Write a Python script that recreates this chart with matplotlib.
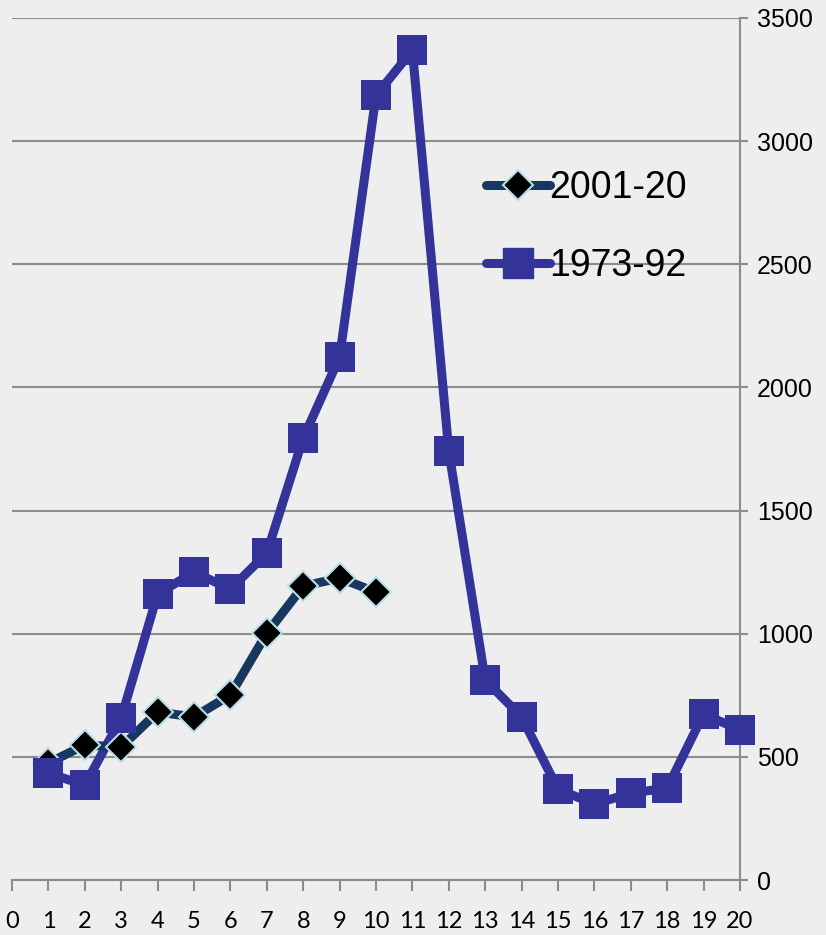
import matplotlib.pyplot as plt
from matplotlib.lines import Line2D

# x positions (years into period)
years_new = [1, 2, 3, 4, 5, 6, 7, 8, 9, 10]
years_old = list(range(1, 21))

# values
vals_2001_20 = [475, 548, 540, 682, 662, 751, 1002, 1193, 1226, 1169]
vals_1973_92 = [434, 385, 657, 1161, 1250, 1181, 1327, 1794, 2123, 3186,
                3369, 1741, 812, 662, 369, 308, 353, 373, 674, 609]

y_ticks = [0, 500, 1000, 1500, 2000, 2500, 3000, 3500]
x_ticks = list(range(0, 21))

bg = '#eeeeee'
grid_col = '#8c8c8c'
sq_col = '#333399'
dia_line = '#17375e'
dia_edge = '#b7dee8'

fig = plt.figure(figsize=(8.26, 9.35), dpi=100, facecolor=bg)
ax = fig.add_axes([12 / 826, 1 - 880 / 935, 728 / 826, 862 / 935])
ax.set_facecolor(bg)

ax.set_xlim(0, 20)
ax.set_ylim(0, 3500)

# lines first, then markers, so squares sit on top like in the original
ax.plot(years_old, vals_1973_92, color=sq_col, lw=6.5, zorder=3,
        solid_capstyle='round', solid_joinstyle='round', clip_on=False)
ax.plot(years_new, vals_2001_20, color=dia_line, lw=6.5, zorder=4,
        solid_capstyle='round', solid_joinstyle='round')
ax.plot(years_new, vals_2001_20, ls='none', marker='D', ms=15, mfc='black',
        mec=dia_edge, mew=1.5, zorder=5)
ax.plot(years_old, vals_1973_92, ls='none', marker='s', ms=22, mfc=sq_col,
        mec=sq_col, mew=0, zorder=6, clip_on=False)

ax.yaxis.tick_right()
ax.set_yticks(y_ticks)
ax.set_xticks(x_ticks)
ax.grid(axis='y', color=grid_col, lw=1.5, zorder=1)
ax.grid(axis='x', visible=False)
for s in ['left', 'top']:
    ax.spines[s].set_visible(False)
for s in ['right', 'bottom']:
    ax.spines[s].set_color(grid_col)
    ax.spines[s].set_linewidth(1.5)
ax.tick_params(axis='y', length=6, width=1.5, color=grid_col, pad=6,
               labelsize=18)
ax.tick_params(axis='x', length=8, width=1.5, color=grid_col, pad=14,
               labelsize=17)
for lab in ax.get_yticklabels():
    lab.set_fontfamily('Liberation Sans')
for lab in ax.get_xticklabels():
    lab.set_fontfamily('Lato')

handles = [
    Line2D([], [], color=dia_line, lw=6.5, marker='D', ms=15, mfc='black',
           mec=dia_edge, mew=1.5, solid_capstyle='round'),
    Line2D([], [], color=sq_col, lw=6.5, marker='s', ms=22, mfc=sq_col,
           mec=sq_col, solid_capstyle='round'),
]
leg = ax.legend(handles, ['2001-20', '1973-92'], loc='center left',
                bbox_to_anchor=(440 / 728, 1 - 209 / 862), frameon=False,
                numpoints=1, handlelength=1.7, handletextpad=0.0,
                labelspacing=1.1,
                prop={'family': 'Liberation Sans', 'size': 27})

fig.savefig('out.png', dpi=100, facecolor=bg)
